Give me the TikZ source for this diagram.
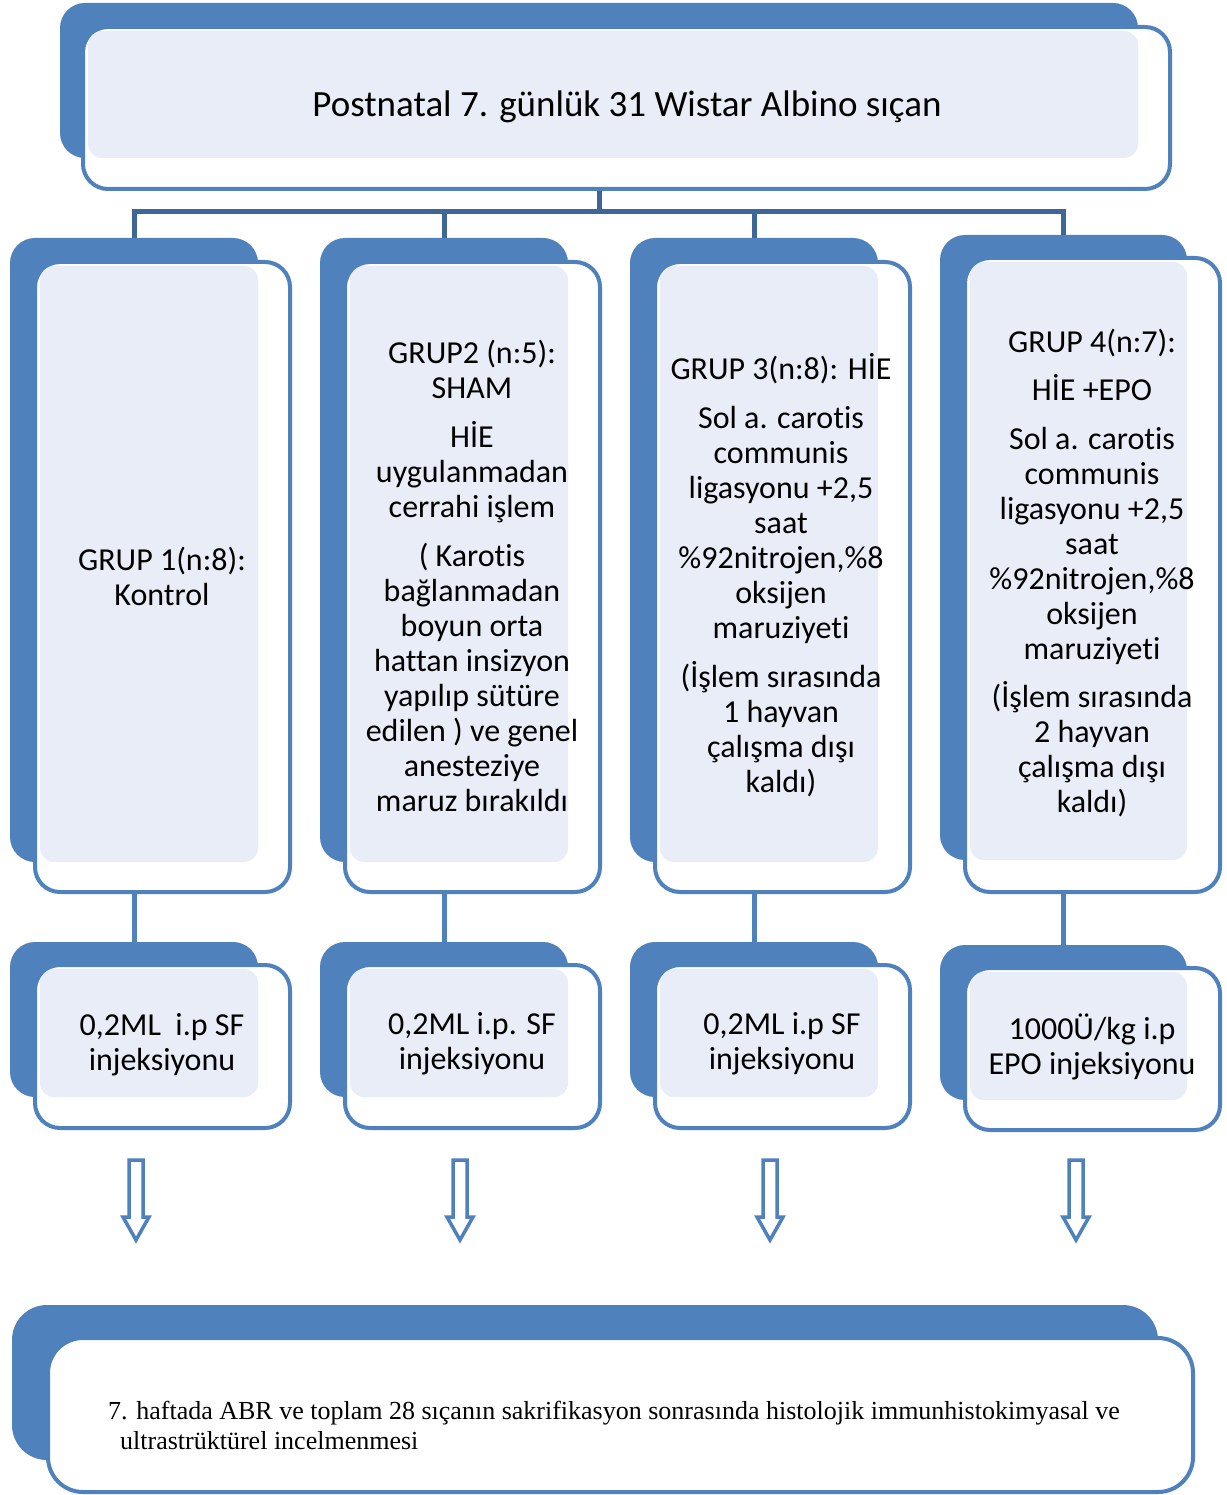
\documentclass[tikz,border=0pt]{standalone}
\usepackage{fontspec}
\setmainfont[Ligatures=NoCommon]{Carlito}
\newfontfamily\timesf{Liberation Serif}
\usetikzlibrary{fit,backgrounds,calc}
\definecolor{ofblue}{RGB}{79,129,189}
\definecolor{darkline}{RGB}{62,102,150}
\definecolor{patblue}{RGB}{232,237,247}
\tikzset{
 backbox/.style={fill=ofblue, draw=none, rounded corners=25pt, inner sep=0pt, outer sep=0pt},
 frontbox/.style={fill=white, draw=ofblue, line width=4pt, rounded corners=25pt, inner sep=0pt, outer sep=0pt},
 patfill/.style={fill=patblue, rounded corners=14pt},
 grptext/.style={font=\fontsize{32}{35}\selectfont, align=center, inner sep=0pt},
 toptext/.style={font=\fontsize{37}{42}\selectfont, inner sep=0pt},
 bottext/.style={font=\timesf\fontsize{26}{30}\selectfont, align=left, inner sep=0pt, anchor=west},
 trunk/.style={draw=darkline, line width=5pt},
 branch/.style={draw=ofblue, line width=5pt},
 harrow/.style={draw=ofblue, fill=white, line width=3.5pt, line join=miter},
}
\newcommand\twobox[9]{%
 \node[backbox, fit={(#2,#3)(#4,#5)}] (#1b) {};
 \node[frontbox, fit={(#6,#7)(#8,#9)}] (#1f) {};
}
\begin{document}
\begin{tikzpicture}[x=1pt,y=-1pt]
\useasboundingbox (0,0) rectangle (1226,1495);
% top box
\twobox{top}{60}{3}{1138}{158}{83}{27}{1170}{189}
\fill[patfill] (88,31) rectangle (1138,158);
\node[toptext] (toptxt) at (627,107) {Postnatal 7. günlük 31 Wistar Albino sıçan};
% group boxes
\twobox{ga}{10}{238}{258}{862}{35}{262}{290}{892}
\fill[patfill] (40,266) rectangle (258,862);
\twobox{gb}{320}{238}{568}{862}{345}{262}{600}{892}
\fill[patfill] (350,266) rectangle (568,862);
\twobox{gc}{630}{238}{878}{862}{655}{262}{910}{892}
\fill[patfill] (660,266) rectangle (878,862);
\twobox{gd}{940}{235}{1187}{860}{965}{258}{1220}{892}
\fill[patfill] (970,262) rectangle (1187,860);
\node[grptext] (gatxt) at (162,576) {GRUP 1(n:8):\\Kontrol};
\node[grptext] (gbtxt) at (472,576) {GRUP2 (n:5):\\SHAM\\[14pt]HİE\\uygulanmadan\\cerrahi işlem\\[14pt]( Karotis\\bağlanmadan\\boyun orta\\hattan insizyon\\yapılıp sütüre\\edilen ) ve genel\\anesteziye\\maruz bırakıldı};
\node[grptext] (gctxt) at (781,575) {GRUP 3(n:8): HİE\\[14pt]Sol a. carotis\\communis\\ligasyonu +2,5\\saat\\\%92nitrojen,\%8\\oksijen\\maruziyeti\\[14pt](İşlem sırasında\\1 hayvan\\çalışma dışı\\kaldı)};
\node[grptext] (gdtxt) at (1092,573) {GRUP 4(n:7):\\[13pt]HİE +EPO\\[14pt]Sol a. carotis\\communis\\ligasyonu +2,5\\saat\\\%92nitrojen,\%8\\oksijen\\maruziyeti\\[13pt](İşlem sırasında\\2 hayvan\\çalışma dışı\\kaldı)};
% injection boxes
\twobox{ia}{10}{942}{258}{1097}{35}{965}{290}{1128}
\fill[patfill] (40,969) rectangle (258,1097);
\twobox{ib}{320}{942}{568}{1097}{345}{965}{600}{1128}
\fill[patfill] (350,969) rectangle (568,1097);
\twobox{ic}{630}{942}{878}{1097}{655}{965}{910}{1128}
\fill[patfill] (660,969) rectangle (878,1097);
\twobox{id}{940}{945}{1187}{1100}{965}{968}{1220}{1130}
\fill[patfill] (970,972) rectangle (1187,1100);
\node[grptext] (iatxt) at (162,1045) {0,2ML\ \ i.p SF\\injeksiyonu};
\node[grptext] (ibtxt) at (472,1044) {0,2ML i.p. SF\\injeksiyonu};
\node[grptext] (ictxt) at (782,1044) {0,2ML i.p SF\\injeksiyonu};
\node[grptext] (idtxt) at (1092,1047) {1000Ü/kg i.p\\EPO injeksiyonu};
% bottom box
\node[backbox, rounded corners=35pt, fit={(12,1305)(1158,1460)}] (botb) {};
\node[frontbox, rounded corners=35pt, fit={(48,1338)(1193,1492)}] (botf) {};
\node[bottext] (bottxt) at (108,1425) {7. haftada ABR ve toplam 28 sıçanın sakrifikasyon sonrasında histolojik immunhistokimyasal ve\\\hspace{12pt}ultrastrüktürel incelmenmesi};
% hollow arrows
\foreach \x in {136,460,770,1076}
  \draw[harrow] (\x-7,1160) -- (\x+7,1160) -- (\x+7,1217) -- (\x+13,1217) -- (\x,1240) -- (\x-13,1217) -- (\x-7,1217) -- cycle;
% connectors
\begin{pgfonlayer}{background}
 \fill[white] (0,0) rectangle (1226,1495);
 \coordinate (jn) at ($(topb.south)+(0,54)$);
 \draw[trunk] (topb.south) -- (jn);
 \draw[trunk] (gab.north) |- (jn) -| (gdb.north);
 \draw[trunk] (gbb.north) -- (gbb.north |- jn);
 \draw[trunk] (gcb.north) -- (gcb.north |- jn);
 \draw[branch] (gab.south) -- (iab.north);
 \draw[branch] (gbb.south) -- (ibb.north);
 \draw[branch] (gcb.south) -- (icb.north);
 \draw[branch] (gdb.south) -- (idb.north);
\end{pgfonlayer}
\end{tikzpicture}
\end{document}
